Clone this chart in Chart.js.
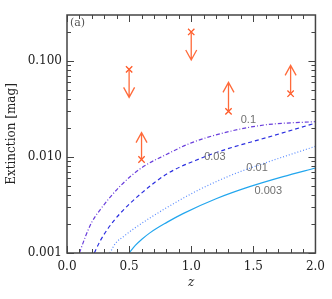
<!DOCTYPE html>
<html>
<head>
<meta charset="utf-8">
<script src="https://cdn.jsdelivr.net/npm/chart.js@4"></script>
<style>
    html, body { margin: 0; padding: 0; background: #fff; }
    #contenedor { width: 332px; height: 299px; }
</style>
</head>
<body>
<div id="contenedor"><canvas id="graficaExtincion"></canvas></div>
<script>

// ===============================
// DATOS
// ===============================

const ticksZ = [0, 0.5, 1.0, 1.5, 2.0];
const ticksExt = [0.001, 0.01, 0.1];

const nombresCurvas = ["0.1", "0.03", "0.01", "0.003"];

const zCurva01 = [0.1, 0.15, 0.2, 0.265, 0.43, 0.6, 0.8, 1.0, 1.33, 1.6, 2.0];
const extCurva01 = [0.001, 0.0015, 0.0021, 0.0028, 0.005, 0.0077, 0.0106, 0.014, 0.0187, 0.0216, 0.0233];

const zCurva003 = [0.22, 0.265, 0.33, 0.43, 0.6, 0.8, 1.07, 1.28, 1.6, 2.0];
const extCurva003 = [0.001, 0.00132, 0.0018, 0.0026, 0.0042, 0.0066, 0.0096, 0.012, 0.0158, 0.0225];

const zCurva001 = [0.345, 0.39, 0.46, 0.53, 0.8, 1.07, 1.34, 1.6, 2.0];
const extCurva001 = [0.001, 0.00126, 0.0015, 0.00176, 0.00295, 0.0046, 0.0066, 0.0087, 0.0129];

const zCurva0003 = [0.5, 0.55, 0.6, 0.667, 0.8, 0.934, 1.2, 1.47, 1.74, 2.0];
const extCurva0003 = [0.001, 0.0012, 0.00138, 0.00162, 0.00207, 0.00257, 0.00367, 0.0049, 0.00624, 0.00767];

// límites (cruz + flecha)
const limZ = [0.5, 0.6, 1.0, 1.3, 1.8];
const limValor = [0.0815, 0.0094, 0.2, 0.0298, 0.0455];
const limFlecha = [0.0417, 0.0179, 0.102, 0.0597, 0.0898];


function puntos(zs, valores) {
    return zs.map((z, i) => ({ x: z, y: valores[i] }));
}


// ===============================
// PLUGIN: MARCO Y TICKS INTERIORES
// ===============================

const marcoEjes = {

    id: "marcoEjes",

    afterDraw(chart) {

        const { ctx, chartArea: a, scales: { x, y } } = chart;

        ctx.save();
        ctx.strokeStyle = "#444";
        ctx.lineWidth = 1;

        ctx.beginPath();

        for (let i = 0; i <= 20; i++) {

            const px = Math.round(x.getPixelForValue(i / 10)) + 0.5;
            const largo = i % 5 === 0 ? 7 : 4;

            ctx.moveTo(px, a.bottom);
            ctx.lineTo(px, a.bottom - largo);
            ctx.moveTo(px, a.top);
            ctx.lineTo(px, a.top + largo);

        }

        ticksExt.forEach(dec => {

            for (let m = 1; m <= 9; m++) {

                const v = dec * m;
                if (v > y.max) break;

                const py = Math.round(y.getPixelForValue(v)) + 0.5;
                const largo = m === 1 ? 7 : 4;

                ctx.moveTo(a.left, py);
                ctx.lineTo(a.left + largo, py);
                ctx.moveTo(a.right, py);
                ctx.lineTo(a.right - largo, py);

            }

        });

        ctx.stroke();

        ctx.lineWidth = 1.5;
        ctx.strokeRect(a.left, a.top, a.right - a.left, a.bottom - a.top);

        ctx.restore();

    }

};


// ===============================
// PLUGIN: FLECHAS Y ETIQUETAS
// ===============================

const flechas = {

    id: "flechas",

    afterDatasetsDraw(chart) {

        const { ctx, scales: { x, y } } = chart;

        ctx.save();
        ctx.strokeStyle = "#ff6a3a";
        ctx.lineWidth = 1.3;

        limZ.forEach((z, i) => {

            const px = x.getPixelForValue(z);
            const p0 = y.getPixelForValue(limValor[i]);
            const p1 = y.getPixelForValue(limFlecha[i]);
            const dir = p1 > p0 ? 1 : -1;

            ctx.beginPath();
            ctx.moveTo(px, p0);
            ctx.lineTo(px, p1);
            ctx.moveTo(px - 5.5, p1 - dir * 10);
            ctx.lineTo(px, p1);
            ctx.lineTo(px + 5.5, p1 - dir * 10);
            ctx.stroke();

        });

        // etiquetas de las curvas
        const posEtiquetas = [[1.46, 0.0245], [1.19, 0.0099], [1.53, 0.0076], [1.62, 0.0044]];

        ctx.fillStyle = "#707070";
        ctx.font = "11px 'Liberation Sans', sans-serif";
        ctx.textAlign = "center";
        ctx.textBaseline = "middle";

        nombresCurvas.forEach((nombre, i) => {

            ctx.fillText(
                nombre,
                x.getPixelForValue(posEtiquetas[i][0]),
                y.getPixelForValue(posEtiquetas[i][1])
            );

        });

        ctx.fillStyle = "#555";
        ctx.font = "11px 'DejaVu Serif', serif";
        ctx.textAlign = "left";
        ctx.fillText("(a)", chart.chartArea.left + 3, chart.chartArea.top + 8);

        ctx.restore();

    }

};


// ===============================
// GRÁFICA
// ===============================

const fuente = { family: "'DejaVu Serif', serif", size: 12 };

new Chart(document.getElementById("graficaExtincion"), {

    type: "line",

    data: {

        datasets: [

            {
                label: nombresCurvas[0],
                data: puntos(zCurva01, extCurva01),
                borderColor: "#6a3fdc",
                borderWidth: 1.2,
                borderDash: [4, 2, 1, 2],
                pointRadius: 0,
                cubicInterpolationMode: "monotone"
            },

            {
                label: nombresCurvas[1],
                data: puntos(zCurva003, extCurva003),
                borderColor: "#2a2ee0",
                borderWidth: 1.2,
                borderDash: [4, 3],
                pointRadius: 0,
                cubicInterpolationMode: "monotone"
            },

            {
                label: nombresCurvas[2],
                data: puntos(zCurva001, extCurva001),
                borderColor: "#5a8cff",
                borderWidth: 1.2,
                borderDash: [1, 2],
                pointRadius: 0,
                cubicInterpolationMode: "monotone"
            },

            {
                label: nombresCurvas[3],
                data: puntos(zCurva0003, extCurva0003),
                borderColor: "#22a6ee",
                borderWidth: 1.2,
                pointRadius: 0,
                cubicInterpolationMode: "monotone"
            },

            {
                label: "Límites",
                type: "scatter",
                data: puntos(limZ, limValor),
                pointStyle: "crossRot",
                pointRadius: 4.5,
                borderColor: "#ff5a28",
                borderWidth: 1.3,
                showLine: false
            }

        ]

    },

    options: {

        responsive: true,
        maintainAspectRatio: false,
        animation: false,

        layout: {
            padding: { top: 15, right: 16, left: 0, bottom: 0 }
        },

        plugins: {
            legend: { display: false },
            tooltip: { enabled: false }
        },

        scales: {

            x: {

                type: "linear",
                min: 0,
                max: 2,

                afterBuildTicks: escala => {
                    escala.ticks = ticksZ.map(v => ({ value: v }));
                },

                afterFit: escala => {
                    escala.height = 46;
                },

                grid: { display: false, drawTicks: false },
                border: { display: false },

                ticks: {
                    color: "#222",
                    font: fuente,
                    padding: 7,
                    maxRotation: 0,
                    callback: v => Number(v).toFixed(1)
                },

                title: {
                    display: true,
                    text: "z",
                    color: "#222",
                    font: { family: "'DejaVu Serif', serif", size: 12, style: "italic" },
                    padding: { top: 0, bottom: 9 }
                }

            },

            y: {

                type: "logarithmic",
                min: 0.001,
                max: 0.3,

                afterBuildTicks: escala => {
                    escala.ticks = ticksExt.map(v => ({ value: v }));
                },

                afterFit: escala => {
                    escala.width = 67;
                },

                grid: { display: false, drawTicks: false },
                border: { display: false },

                ticks: {
                    color: "#222",
                    font: fuente,
                    padding: 5,
                    callback: v => Number(v).toFixed(3)
                },

                title: {
                    display: true,
                    text: "Extinction [mag]",
                    color: "#222",
                    font: fuente,
                    padding: { top: 5, bottom: 0 }
                }

            }

        }

    },

    plugins: [marcoEjes, flechas]

});

</script>
</body>
</html>
